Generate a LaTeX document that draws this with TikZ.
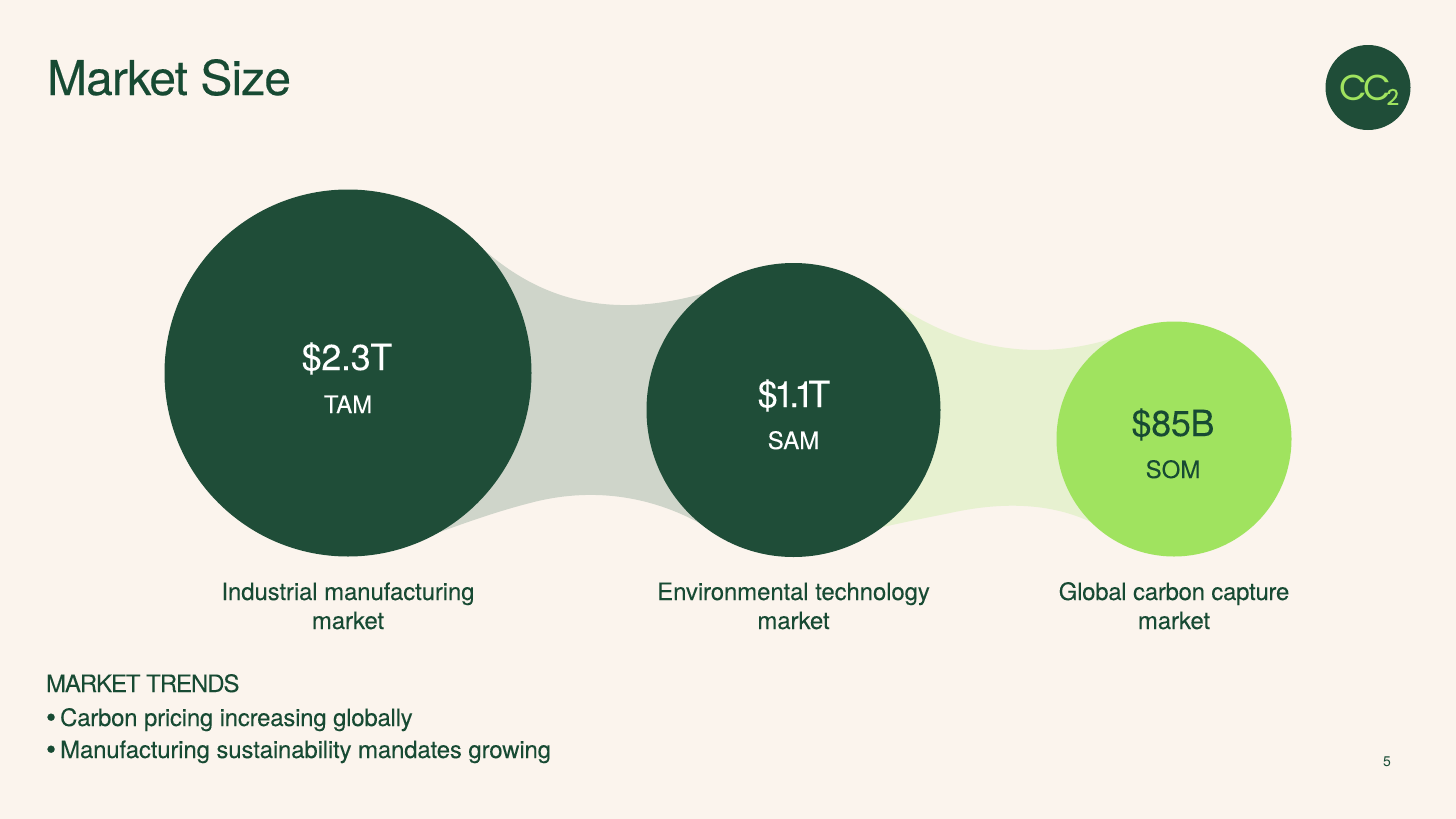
\documentclass[tikz,border=0pt]{standalone}
\usepackage{fontspec}
\setmainfont{TeX Gyre Heros}
\newfontfamily\logofont{Poppins}
\definecolor{bgc}{HTML}{FBF4ED}
\definecolor{dark}{HTML}{1F4D38}
\definecolor{inkc}{HTML}{174A33}
\definecolor{lime}{HTML}{A0E35F}
\definecolor{ribA}{HTML}{CFD5CA}
\definecolor{ribB}{HTML}{E7F1D0}
\newcommand{\fsz}[2]{\fontsize{#1}{#1}\selectfont\addfontfeature{LetterSpace=#2,FakeBold=0.05}}
\newcommand{\bul}{\raisebox{-1.2pt}{\fontsize{29}{29}\selectfont •}\kern-2.5pt\ }
\tikzset{
  x=1pt,y=-1pt,
  bubble/.style={circle,inner sep=0pt,outer sep=0pt,minimum size=#1,fill=dark},
  ink/.style={inner sep=0pt,outer sep=0pt,text=inkc},
  amount/.style={ink,anchor=base,font=\fsz{36}{-1}},
  tier/.style={ink,anchor=base,font=\fsz{24}{0}},
  trend/.style={ink,anchor=base west}
}
\begin{document}
\begin{tikzpicture}
\useasboundingbox (0,0) rectangle (1456,819);
\fill[bgc] (0,0) rectangle (1456,819);
% ribbons
\fill[ribA] (470,240) -- (490,255) .. controls (535,292) and (600,323) .. (705,293) -- (740,330) -- (740,500) -- (703,525) .. controls (650,495) and (590,487) .. (530,503) .. controls (495,512) and (465,523) .. (440,532) -- (400,500) -- (400,300) -- cycle;
\fill[ribB] (880,290) -- (900,307) .. controls (950,340) and (1025,367) .. (1117,337) -- (1150,380) -- (1150,500) -- (1093,523) .. controls (1050,502) and (1000,502) .. (950,513) .. controls (925,518) and (905,522) .. (883,527) -- (850,500) -- (850,320) -- cycle;
% bubbles
\node[bubble=367pt] (tam) at (348,373) {};
\node[bubble=294pt] (sam) at (793.5,410) {};
\node[bubble=235pt,fill=lime] (som) at (1174,439) {};
\node[bubble=85pt] (logo) at (1368,87.5) {};
\node[inner sep=0pt,anchor=base west,text=lime] (logotext) at (1339.5,100) {\logofont\fontsize{36}{36}\selectfont\addfontfeature{LetterSpace=-12}CC\kern-4.5pt\raisebox{-5pt}{\fontsize{22}{22}\selectfont\addfontfeature{LetterSpace=0,FakeBold=0.4}2}};
% labels
\node[ink,anchor=base west,font=\fontsize{48}{48}\selectfont\addfontfeature{LetterSpace=-1.9,FakeBold=0.25}] (title) at (47,95) {Market Size};
\node[amount,text=white] (a1) at (347,370) {\$2.3T};
\node[tier,text=white] (t1) at (348,413) {TAM};
\node[amount,text=white] (a2) at (794,407) {\$\kern-3.5pt1\kern-5pt.\kern-5pt1\kern-6pt T};
\node[tier,text=white] (t2) at (793.5,449) {SAM};
\node[amount] (a3) at (1173,436) {\$85B};
\node[tier] (t3) at (1173,478) {SOM};
\node[ink,anchor=base,font=\fsz{24}{-0.5}] (c1a) at (348,600) {Industrial manufacturing};
\node[ink,anchor=base,font=\fsz{24}{-0.5}] (c1b) at (348,629) {market};
\node[ink,anchor=base,font=\fsz{24}{-0.5}] (c2a) at (793.5,600) {Environmental technology};
\node[ink,anchor=base,font=\fsz{24}{-0.5}] (c2b) at (793.5,629) {market};
\node[ink,anchor=base,font=\fsz{24}{-1.2}] (c3a) at (1174,600) {Global carbon capture};
\node[ink,anchor=base,font=\fsz{24}{-0.5}] (c3b) at (1174,629) {market};
\node[trend,font=\fsz{24}{-4.5}] (m0) at (46,692) {MARKET TRENDS};
\node[trend,font=\fsz{24}{-1.0}] (m1) at (46,726) {\bul Carbon pricing increasing globally};
\node[trend,font=\fsz{24}{-0.7}] (m2) at (46,758) {\bul Manufacturing sustainability mandates growing};
\node[ink,anchor=base,font=\fontsize{14}{14}\selectfont] (pg) at (1387,766) {5};
\end{tikzpicture}
\end{document}
